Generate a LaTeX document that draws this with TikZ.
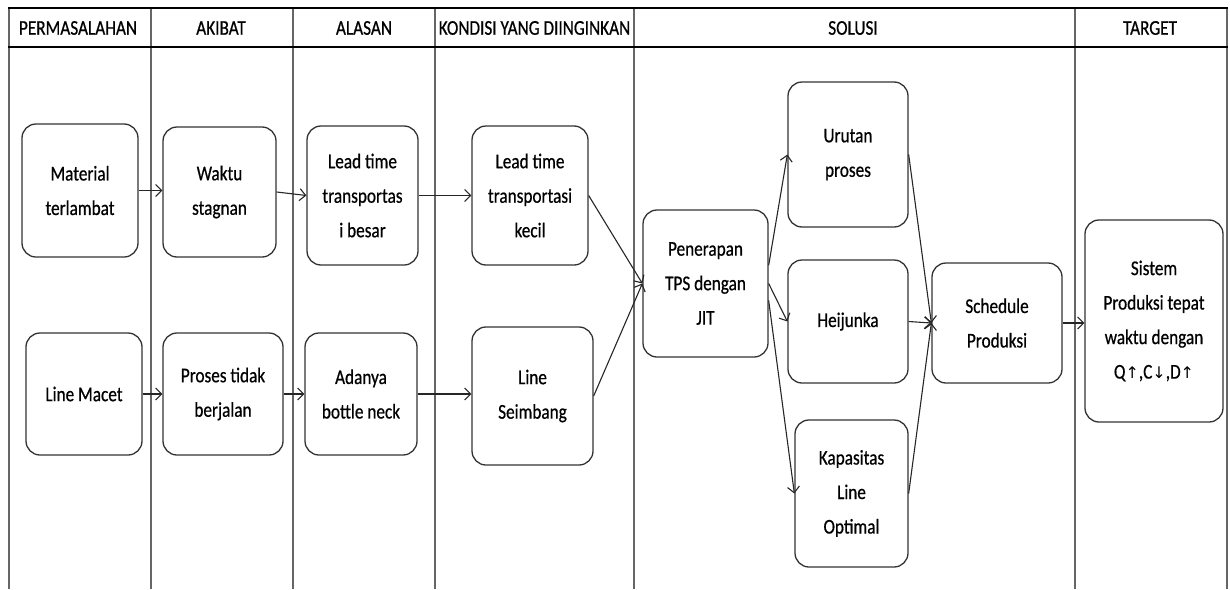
\documentclass[tikz,border=0pt]{standalone}
\usepackage{fontspec}
\setmainfont{Carlito}[FakeStretch=0.82, FakeBold=0.6]
\newfontfamily\arrfont{DejaVu Sans}
\usetikzlibrary{arrows.meta}
\newcommand\nodefont{\fontsize{21}{34.5}\selectfont}
\newcommand\up{{\arrfont\fontsize{16}{34.5}\selectfont ↑}}
\newcommand\dn{{\arrfont\fontsize{16}{34.5}\selectfont ↓}}
\tikzset{
  box/.style={draw=black!80, line width=1.3pt, rounded corners=14pt, align=center, font=\nodefont, inner sep=0pt, fill=white},
  conn/.style={draw=black!85, line width=1.1pt, -{Straight Barb[length=6pt,width=12pt]}},
  lane/.style={draw=black!60, line width=1.6pt},
  headline/.style={draw=black, line width=2pt},
  head/.style={font=\nodefont, inner sep=0pt}
}
\begin{document}
\begin{tikzpicture}[x=1pt,y=-1pt]
\useasboundingbox (0,0) rectangle (1230,589);
% lanes
\foreach \xx in {9,151,293,435,634,1075,1227}{
  \draw[lane] (\xx,8) -- (\xx,589);
}
\draw[headline] (8,8) -- (1228,8);
\draw[headline] (8,47) -- (1228,47);
% headers
\node[head] (h1) at (78,28) {PERMASALAHAN};
\node[head] (h2) at (221,28) {AKIBAT};
\node[head] (h3) at (364,28) {ALASAN};
\node[head] (h4) at (534.5,28) {KONDISI YANG DIINGINKAN};
\node[head] (h5) at (853,28) {SOLUSI};
\node[head] (h6) at (1150,28) {TARGET};
% nodes
\node[box, minimum width=116pt, minimum height=133pt] (mat) at (80,190.5) {Material\\terlambat};
\node[box, minimum width=113pt, minimum height=130pt] (wak) at (219.5,192) {Waktu\\stagnan};
\node[box, minimum width=111pt, minimum height=139pt] (lb) at (362.5,195.5) {Lead time\\transportas\\i besar};
\node[box, minimum width=116pt, minimum height=139pt] (lk) at (530,195.5) {Lead time\\transportasi\\kecil};
\node[box, minimum width=116pt, minimum height=122pt] (lm) at (84,394) {Line Macet};
\node[box, minimum width=120pt, minimum height=122pt] (pt) at (223,394) {Proses tidak\\berjalan};
\node[box, minimum width=112pt, minimum height=122pt] (ad) at (361,394) {Adanya\\bottle neck};
\node[box, minimum width=121pt, minimum height=138pt] (ls) at (532.5,396) {Line\\Seimbang};
\node[box, minimum width=125pt, minimum height=147pt] (tps) at (705.5,283.5) {Penerapan\\TPS dengan\\JIT};
\node[box, minimum width=120pt, minimum height=145pt] (uru) at (848,154.5) {Urutan\\proses};
\node[box, minimum width=120pt, minimum height=123pt] (hei) at (848,321.5) {Heijunka};
\node[box, minimum width=113pt, minimum height=147pt] (kap) at (851.5,493.5) {Kapasitas\\Line\\Optimal};
\node[box, minimum width=130pt, minimum height=120pt] (sch) at (997,323) {Schedule\\Produksi};
\node[box, minimum width=138pt, minimum height=202pt] (sis) at (1154,321) {Sistem\\Produksi tepat\\waktu dengan\\Q\up,C\dn,D\up};
% connectors
\draw[conn] (mat.east) -- (mat.east -| wak.west);
\draw[conn] (wak.east) -- (lb.west);
\draw[conn] (lb.east) -- (lk.west);
\draw[conn] (lm.east) -- (lm.east -| pt.west);
\draw[conn] (pt.east) -- (pt.east -| ad.west);
\draw[conn] (ad.east) -- (ad.east -| ls.west);
\draw[conn] (lk.east) -- (tps.west);
\draw[conn] (ls.east) -- (tps.west);
\draw[conn] (tps.16) -- (uru.west);
\draw[conn] (tps.east) -- (hei.west);
\draw[conn] (tps.-15) -- (kap.west);
\draw[conn] (uru.east) -- (sch.west);
\draw[conn] (hei.east) -- (sch.west);
\draw[conn] (kap.east) -- (sch.west);
\draw[conn] (sch.east) -- (sch.east -| sis.west);
\end{tikzpicture}
\end{document}
